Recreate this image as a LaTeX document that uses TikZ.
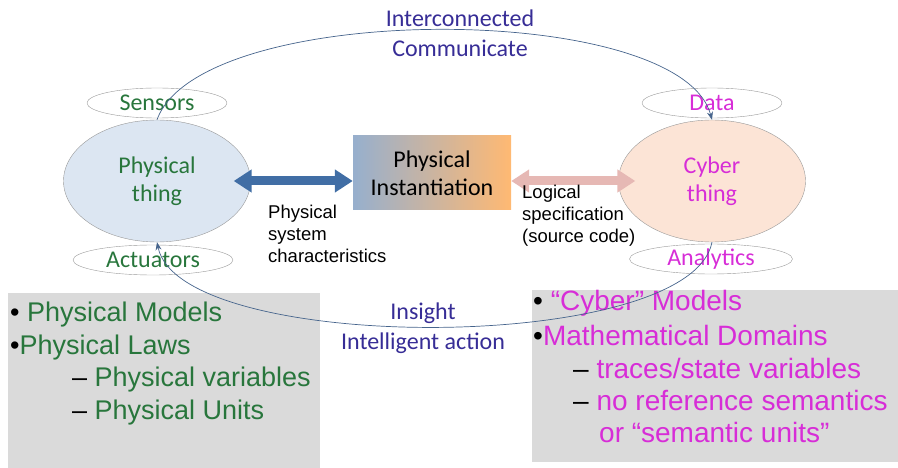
\documentclass[tikz,border=0pt]{standalone}
\usepackage{fontspec}
\setmainfont{Carlito}
\newfontfamily\arialfont{Liberation Sans}
\usetikzlibrary{shapes.geometric,arrows.meta}
\definecolor{physgreen}{RGB}{40,118,60}
\definecolor{cybmag}{RGB}{215,45,215}
\definecolor{linkblue}{RGB}{55,45,150}
\definecolor{curvecol}{RGB}{70,100,140}
\definecolor{physfill}{RGB}{220,230,242}
\definecolor{cybfill}{RGB}{252,228,214}
\definecolor{boxgray}{RGB}{218,218,218}
\definecolor{arrblue}{RGB}{65,110,165}
\definecolor{arrpink}{RGB}{230,184,180}

\begin{document}
\begin{tikzpicture}[x=1pt,y=-1pt,>=stealth,
    thing/.style={ellipse,draw=gray!80,thin,inner sep=0pt,minimum width=187pt,minimum height=122pt,align=center,font=\fontsize{24}{28}\selectfont},
    port/.style={ellipse,draw=gray!80,thin,inner sep=0pt,minimum height=30pt,font=\fontsize{24}{28}\selectfont},
    blockarrow/.style={line width=9pt,{Triangle[length=18pt,width=22pt]}-{Triangle[length=18pt,width=22pt]}},
    note/.style={inner sep=0pt,anchor=north west,align=left,font=\arialfont\fontsize{18.5}{22}\selectfont},
    listline/.style={inner sep=0pt,anchor=west,font=\arialfont\fontsize{27}{32}\selectfont},
    link/.style={linkblue,align=center,font=\fontsize{24}{30}\selectfont},
    flow/.style={curvecol,line width=0.7pt,-{Stealth[length=8pt,width=6pt]}}]
  \useasboundingbox (0,0) rectangle (898,468);

  \fill[boxgray] (8,293) rectangle (320,468);
  \fill[boxgray] (532,290) rectangle (898,462);

  \node[listline,physgreen] (pm) at (10,315) {\textcolor{black}{•} Physical Models};
  \node[listline,physgreen] (pl) at (10,348) {\textcolor{black}{•}Physical Laws};
  \node[listline,physgreen] (pv) at (72,380) {\textcolor{black}{–} Physical variables};
  \node[listline,physgreen] (pu) at (72,413) {\textcolor{black}{–} Physical Units};

  \node[listline,cybmag,font=\arialfont\fontsize{28}{32}\selectfont] (cm) at (533,303) {\textcolor{black}{•} “Cyber” Models};
  \node[listline,cybmag,font=\arialfont\fontsize{28}{32}\selectfont] (md) at (533,335) {\textcolor{black}{•}Mathematical Domains};
  \node[listline,cybmag,font=\arialfont\fontsize{28}{32}\selectfont] (ts) at (573,368) {\textcolor{black}{–} traces/state variables};
  \node[listline,cybmag,font=\arialfont\fontsize{28}{32}\selectfont] (nr) at (573,400) {\textcolor{black}{–} no reference semantics};
  \node[listline,cybmag,font=\arialfont\fontsize{28}{32}\selectfont] (su) at (599,432) {or “semantic units”};

  \node[thing,fill=physfill,text=physgreen] (phys) at (157,181) {Physical\\thing};
  \node[thing,fill=cybfill,text=cybmag] (cyber) at (712,181) {Cyber\\thing};
  \node[port,minimum width=140pt,text=physgreen] (sens) at (157,103) {Sensors};
  \node[port,minimum width=160pt,text=physgreen] (act) at (153,260) {Actuators};
  \node[port,minimum width=140pt,text=cybmag] (data) at (712,103) {Data};
  \node[port,minimum width=163pt,text=cybmag] (anal) at (711,259) {Analytics};

  \node[shading=axis,left color=arrblue!55,middle color=arrpink!75,right color=orange!55,
        minimum width=158pt,minimum height=74pt,inner sep=0pt,align=center,
        font=\fontsize{24}{28}\selectfont] (inst) at (432,173) {Physical\\Instantiation};

  \draw[blockarrow,arrblue] ([xshift=-17pt]phys.east) -- (phys.east -| inst.west);
  \draw[blockarrow,arrpink] (inst.east |- cyber.west) -- ([xshift=17pt]cyber.west);

  \node[note] (psc) at (268,205) {Physical\\system\\characteristics};
  \node[note] (lsc) at (522,185) {Logical\\specification\\(source code)};

  \node[link] (ic) at (460,33) {Interconnected\\Communicate};
  \node[link] (ia) at (423,328) {Insight\\Intelligent action};

  \draw[flow] (phys.north) .. controls (200,0) and (680,0) .. (cyber.north);
  \draw[flow] (cyber.south) .. controls (690,355) and (180,355) .. (phys.south);
\end{tikzpicture}
\end{document}
